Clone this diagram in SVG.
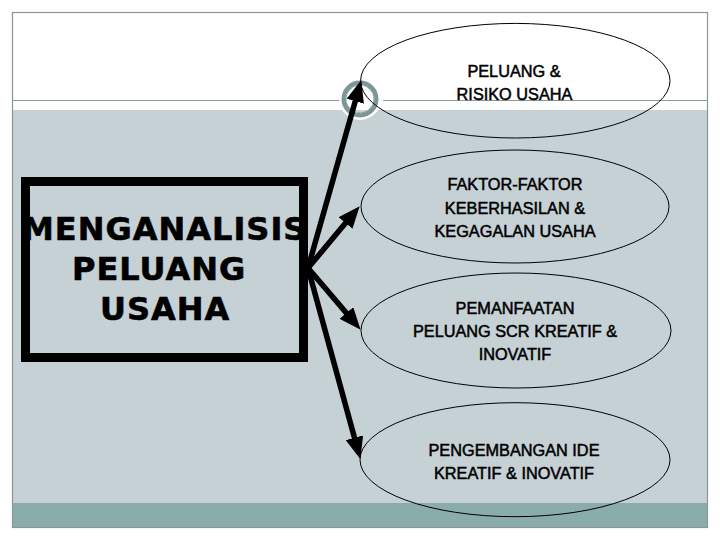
<svg xmlns="http://www.w3.org/2000/svg" width="720" height="540" viewBox="0 0 720 540">
  <defs>
    <style>
      .oval { fill: none; stroke: #000; stroke-width: 1; }
      .lbl { font-family: "Liberation Sans", Arial, sans-serif; font-size: 16.3px; fill: #000; stroke: #000; stroke-width: 0.5; text-anchor: middle; }
      .main { font-family: "DejaVu Sans", "Liberation Sans", sans-serif; font-size: 32px; font-weight: bold; letter-spacing: 1px; fill: #000; stroke: #000; stroke-width: 0.6; }
      .conn { stroke: #000; stroke-width: 5.5; fill: none; marker-end: url(#head); }
    </style>
    <marker id="head" markerUnits="userSpaceOnUse" markerWidth="22" markerHeight="18" refX="13" refY="9" orient="auto">
      <path d="M0,0 L22,9 L0,18 z" fill="#000"/>
    </marker>
  </defs>

  <!-- background -->
  <rect x="0" y="0" width="720" height="540" fill="#ffffff"/>
  <rect x="12" y="110" width="696" height="393" fill="#c6d1d6"/>
  <rect x="12" y="503" width="696" height="24.5" fill="#8aacab"/>
  <rect x="12.5" y="12.5" width="695" height="515" fill="none" stroke="#8a9696" stroke-width="1.2"/>
  <line x1="12" y1="100.5" x2="341" y2="100.5" stroke="#8a9a9a" stroke-width="1.2"/>
  <line x1="383" y1="100.5" x2="708" y2="100.5" stroke="#8a9a9a" stroke-width="1.2"/>

  <!-- handle circle -->
  <g id="handle">
    <circle cx="360" cy="99" r="19.5" fill="none" stroke="#ffffff" stroke-width="3"/>
    <circle cx="360" cy="99" r="16" fill="none" stroke="#7c9595" stroke-width="5"/>
    <circle cx="360" cy="99" r="14" fill="none" stroke="#b9c8c8" stroke-width="1" stroke-dasharray="2 2"/>
  </g>

  <!-- connectors -->
  <g id="connectors">
    <line class="conn" x1="308" y1="268" x2="358.8" y2="88.7"/>
    <line class="conn" x1="308" y1="268" x2="353.9" y2="213.1"/>
    <line class="conn" x1="308" y1="268" x2="354.8" y2="322.9"/>
    <line class="conn" x1="308" y1="268" x2="357.9" y2="450.3"/>
  </g>

  <!-- main box -->
  <g id="main">
    <rect x="25.5" y="181.5" width="278" height="176" fill="none" stroke="#000" stroke-width="9"/>
    <text class="main" x="22" y="240">MENGANALISIS</text>
    <text class="main" x="72" y="280">PELUANG</text>
    <text class="main" x="100" y="320">USAHA</text>
  </g>

  <g id="node1">
    <ellipse class="oval" cx="515.3" cy="80.7" rx="154.7" ry="57.3"/>
    <text class="lbl" x="514" y="77">PELUANG &amp;</text>
    <text class="lbl" x="514.5" y="99.5">RISIKO USAHA</text>
  </g>

  <g id="node2">
    <ellipse class="oval" cx="515" cy="206.5" rx="154" ry="56.5"/>
    <text class="lbl" x="515" y="190">FAKTOR-FAKTOR</text>
    <text class="lbl" x="515" y="214">KEBERHASILAN &amp;</text>
    <text class="lbl" x="515" y="237">KEGAGALAN USAHA</text>
  </g>

  <g id="node3">
    <ellipse class="oval" cx="516" cy="330.5" rx="155" ry="57.5"/>
    <text class="lbl" x="515" y="313.5">PEMANFAATAN</text>
    <text class="lbl" x="515" y="337">PELUANG SCR KREATIF &amp;</text>
    <text class="lbl" x="515" y="360">INOVATIF</text>
  </g>

  <g id="node4">
    <ellipse class="oval" cx="515" cy="459.7" rx="155" ry="57"/>
    <text class="lbl" x="514" y="456">PENGEMBANGAN IDE</text>
    <text class="lbl" x="514" y="479">KREATIF &amp; INOVATIF</text>
  </g>
</svg>
